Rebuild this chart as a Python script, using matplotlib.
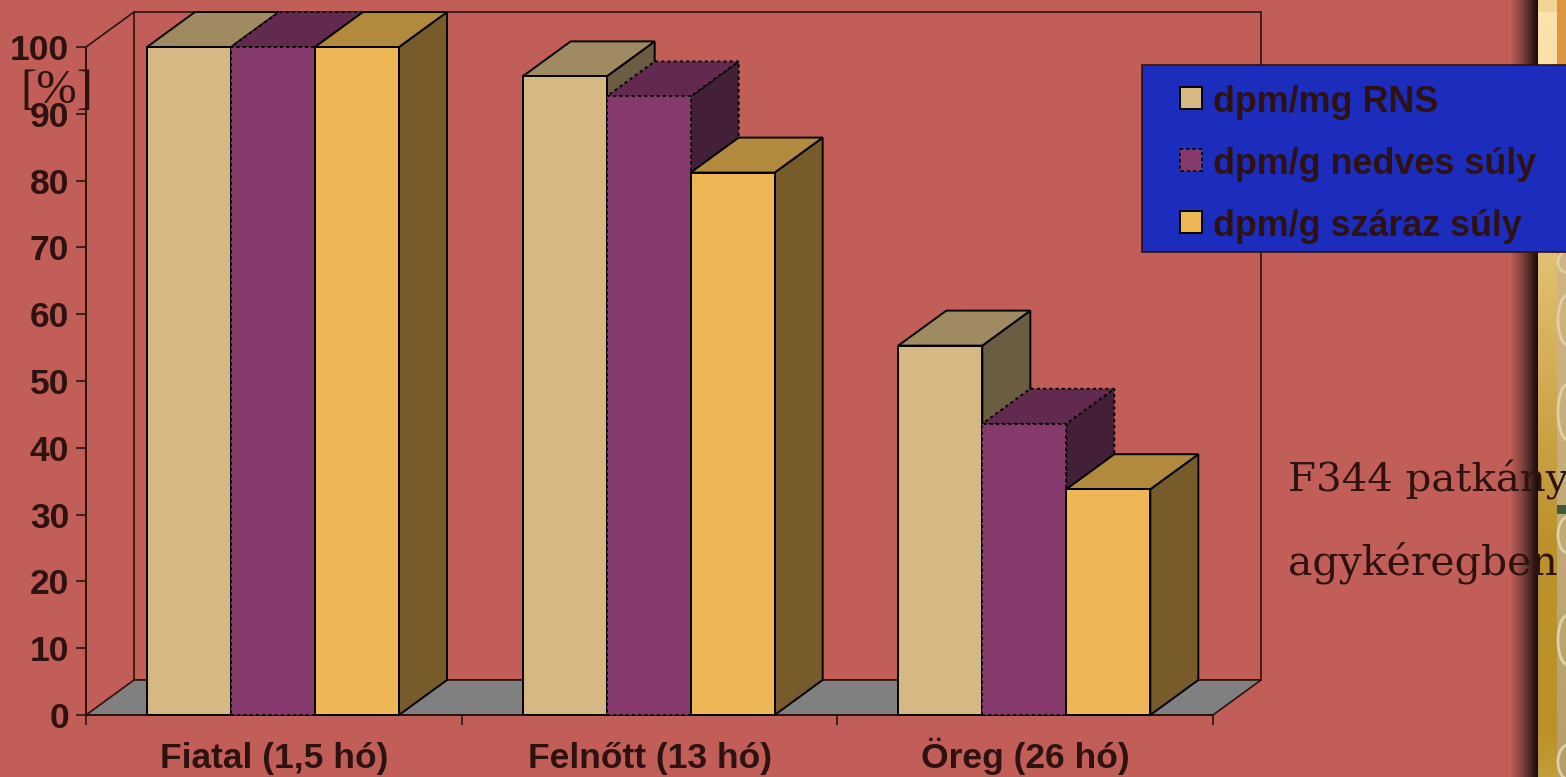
import numpy as np
import matplotlib
matplotlib.use('Agg')
import matplotlib.pyplot as plt
from matplotlib.patches import Polygon, Rectangle, Arc
from matplotlib.colors import LinearSegmentedColormap

# adatok
csoportok = ['Fiatal (1,5 hó)', 'Felnőtt (13 hó)', 'Öreg (26 hó)']
sorozatok = ['dpm/mg RNS', 'dpm/g nedves súly', 'dpm/g száraz súly']
rns = [100, 95.6, 55.3]
nedves = [100, 92.6, 43.6]
szaraz = [100, 81.2, 33.8]
y_ticks = [0, 10, 20, 30, 40, 50, 60, 70, 80, 90, 100]

# szinek: elolap, teteje, oldala
elo = ['#D5B883', '#853A6B', '#EFB655']
teto = ['#9F8A62', '#632A50', '#B18A3E']
oldal = ['#6B5D42', '#431F38', '#775B2A']
hatter = '#C25E58'
sotet = '#2E1210'
pontozott = (0, (1.6, 1.6))

W, H = 1566, 777
fig = plt.figure(figsize=(W / 100, H / 100), dpi=100, facecolor=hatter)

# teljes abrat lefedo tengely a pixeles diszitesekhez
bg = fig.add_axes([0, 0, 1, 1], zorder=0)
bg.axis('off')

# arnyek a jobb oldali sav mellett
arnyek = LinearSegmentedColormap.from_list('arnyek', [hatter, '#7A3F3A', '#1E100E'])
bg.imshow(np.linspace(0, 1, 64).reshape(1, -1), cmap=arnyek, extent=(1510, 1537, H, 0), aspect='auto')
bg.add_patch(Rectangle((1536.5, 0), 1.5, H, fc='#0E0806', ec='none'))
# fuggoleges savok
sav = LinearSegmentedColormap.from_list(
    'sav', [(0, '#F0D596'), (0.012, '#F0D596'), (0.014, '#FAE3AC'), (0.08, '#F8E0A8'),
            (0.35, '#E0BD6E'), (0.7, '#BC912C'), (0.95, '#BA9228'), (1, '#C09E3C')])
bg.imshow(np.linspace(0, 1, 512).reshape(-1, 1), cmap=sav, extent=(1538, 1557, H, 0), aspect='auto')
sav2 = LinearSegmentedColormap.from_list(
    'sav2', [(0, '#E09440'), (0.32, '#E09440'), (0.33, '#D0B685'), (1, '#B59D70')])
bg.imshow(np.linspace(0, 1, 512).reshape(-1, 1), cmap=sav2, extent=(1557, W, H, 0), aspect='auto')
bg.add_patch(Rectangle((1557, 505), 9, 9, fc='#3F5A3C', ec='none'))
# mintazat a szelso oszlopban
for yk, mag in [(262, 22), (320, 50), (412, 56), (535, 36), (640, 50), (762, 34)]:
    bg.add_patch(Arc((1568, yk), 20, mag, theta1=90, theta2=270, ec='#E0D0A8', lw=2))
bg.set_xlim(0, W)
bg.set_ylim(H, 0)

# diagram tengely: x egy csoport, y szazalek
ax = fig.add_axes([86 / W, 1 - 715 / H, (1213 - 86) / W, (715 - 47) / H], zorder=1)
ax.set_xlim(0, 3)
ax.set_ylim(0, 100)
ax.patch.set_alpha(0)
for s in ax.spines.values():
    s.set_visible(False)

# terbeli eltolas adategysegben
dx = 48 / (1127 / 3)
dy = 35 / 6.68
lw = 1.4

# hatso fal es padlo
ax.add_patch(Polygon([(dx, dy), (3 + dx, dy), (3 + dx, 100 + dy), (dx, 100 + dy)], closed=True,
                     fc='none', ec=sotet, lw=1.2, clip_on=False, zorder=1))
ax.add_patch(Polygon([(0, 0), (3, 0), (3 + dx, dy), (dx, dy)], closed=True,
                     fc='#808080', ec=sotet, lw=1.2, clip_on=False, zorder=1))
ax.plot([0, dx], [100, 100 + dy], color=sotet, lw=1.2, clip_on=False, zorder=1)
ax.plot([0, 0], [0, 100], color=sotet, lw=1.4, clip_on=False, zorder=1)
ax.plot([0, 3], [0, 0], color=sotet, lw=1.4, clip_on=False, zorder=1)

bar_w = 84 / (1127 / 3)
eleje = 61 / (1127 / 3)
adat = [rns, nedves, szaraz]

z = 2
for c in range(3):
    for i, ertekek in enumerate(adat):
        v = ertekek[c]
        x0 = c + eleje + i * bar_w
        x1 = x0 + bar_w
        ls = pontozott if i == 1 else '-'
        kw = dict(closed=True, ec='black', lw=lw, ls=ls, clip_on=False, joinstyle='miter', zorder=z)
        ax.add_patch(Polygon([(x1, 0), (x1 + dx, dy), (x1 + dx, v + dy), (x1, v)], fc=oldal[i], **kw))
        ax.add_patch(Polygon([(x0, v), (x1, v), (x1 + dx, v + dy), (x0 + dx, v + dy)], fc=teto[i], **kw))
        ax.add_patch(Polygon([(x0, 0), (x1, 0), (x1, v), (x0, v)], fc=elo[i], **kw))
        z += 1

betu = {'family': 'Liberation Sans', 'weight': 'bold', 'color': sotet}
ax.set_xticks([0, 1, 2, 3])
ax.set_xticklabels([])
ax.set_yticks(y_ticks)
ax.set_yticklabels([str(t) for t in y_ticks], fontsize=25.5, **betu)
ax.tick_params(axis='y', direction='out', length=7.2, width=1.2, color=sotet, pad=4.8)
ax.tick_params(axis='x', direction='out', length=7.2, width=1.2, color=sotet)
for c, nev in enumerate(csoportok):
    ax.annotate(nev, xy=(c + 0.5, 0), xytext=(0, -38.5), textcoords='offset points',
                ha='center', va='baseline', fontsize=25.5, **betu)

# jelmagyarazat doboz pixelben
fg = fig.add_axes([0, 0, 1, 1], zorder=2)
fg.set_xlim(0, W)
fg.set_ylim(H, 0)
fg.axis('off')
fg.add_patch(Rectangle((1142, 65), 430, 187, fc='#1C2DBE', ec=sotet, lw=1.2))
alapvonal = [112, 174, 236]
for i, nev in enumerate(sorozatok):
    yk = 98 + i * 62
    ls = pontozott if i == 1 else '-'
    fg.add_patch(Rectangle((1180, yk - 11), 22, 22, fc=elo[i], ec='black', lw=1.4, ls=ls))
    fg.text(1213, alapvonal[i], nev, ha='left', va='baseline', fontsize=25.8, **betu)

# szoveg a jobb oldalon
fg.text(1288, 491, 'F344 patkány', ha='left', va='baseline', fontsize=29, family='DejaVu Serif', color=sotet)
fg.text(1288, 574, 'agykéregben', ha='left', va='baseline', fontsize=29.5, family='DejaVu Serif', color=sotet)
fg.text(57, 91, '[%]', ha='center', va='center', fontsize=35, family='Liberation Serif', color=sotet)

fig.savefig('out.png', dpi=100, facecolor=hatter)
